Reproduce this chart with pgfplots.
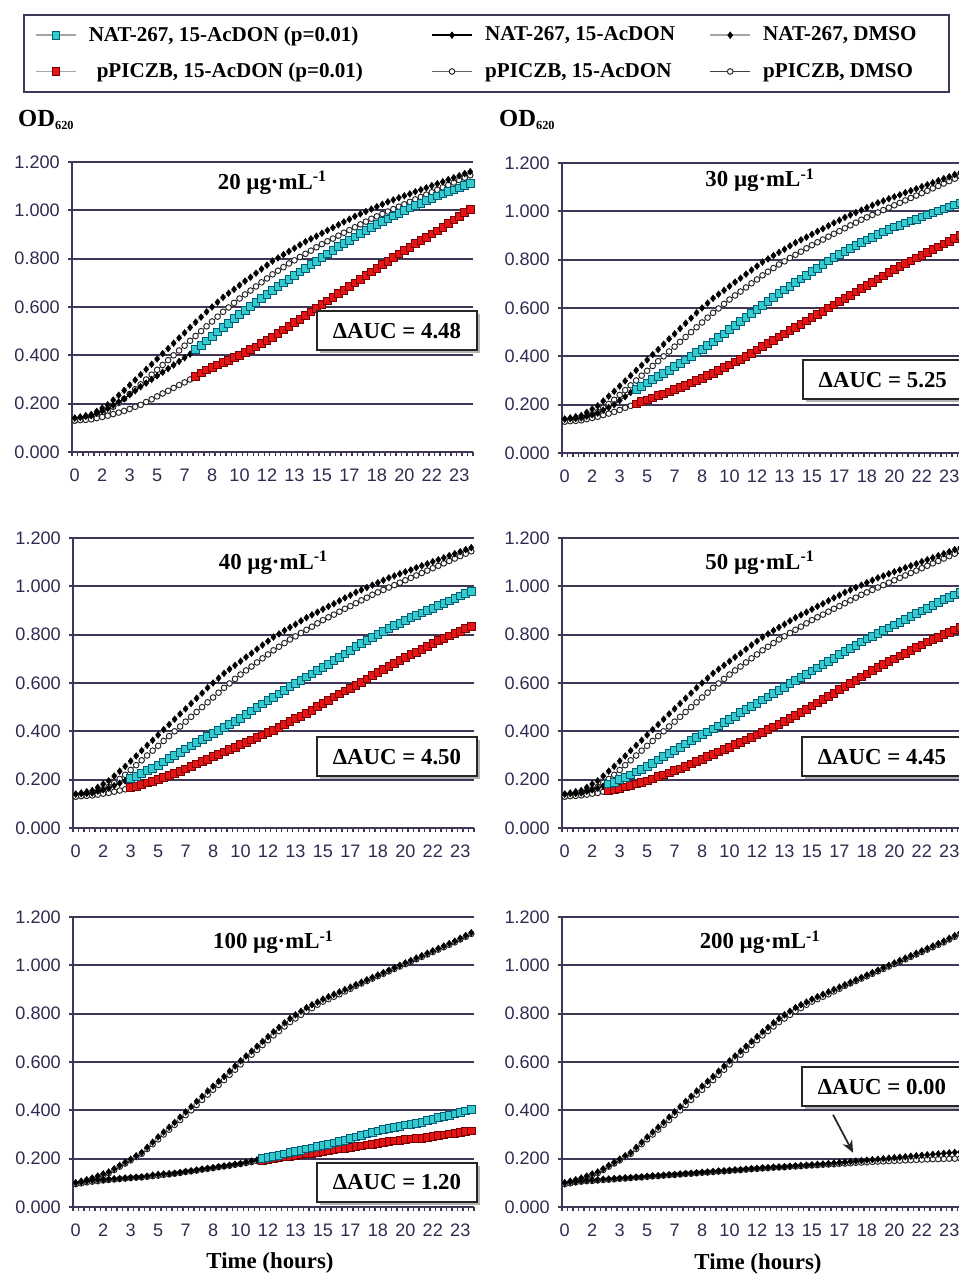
\documentclass[border=0pt]{standalone}
\usepackage{fontspec}
\setmainfont{Liberation Serif}
\newfontfamily\ticksans{Liberation Sans}
\usepackage{pgfplots}
\usepackage{pgfplotstable}
\pgfplotsset{compat=1.18}
\usetikzlibrary{arrows.meta,shadows}

\definecolor{axiscol}{RGB}{66,54,86}
\definecolor{tickcol}{RGB}{52,40,80}
\definecolor{cyanf}{RGB}{51,204,204}
\definecolor{cyand}{RGB}{0,90,120}
\definecolor{redf}{RGB}{230,20,20}
\definecolor{redd}{RGB}{120,0,0}

% controls, panels 20-50
\pgfplotstableread{
i A B
0 0.140 0.130
1 0.145 0.133
2 0.150 0.137
3 0.155 0.140
4 0.168 0.150
5 0.182 0.160
6 0.195 0.170
7 0.215 0.187
8 0.235 0.203
9 0.255 0.220
10 0.277 0.240
11 0.298 0.260
12 0.320 0.280
13 0.342 0.300
14 0.363 0.320
15 0.385 0.340
16 0.407 0.360
17 0.428 0.380
18 0.450 0.400
19 0.472 0.420
20 0.493 0.440
21 0.515 0.460
22 0.537 0.480
23 0.558 0.500
24 0.580 0.520
25 0.600 0.540
26 0.620 0.560
27 0.640 0.580
28 0.657 0.598
29 0.673 0.617
30 0.690 0.635
31 0.707 0.652
32 0.723 0.668
33 0.740 0.685
34 0.757 0.702
35 0.773 0.718
36 0.790 0.735
37 0.803 0.750
38 0.817 0.765
39 0.830 0.780
40 0.843 0.793
41 0.857 0.807
42 0.870 0.820
43 0.882 0.833
44 0.893 0.847
45 0.905 0.860
46 0.917 0.872
47 0.928 0.883
48 0.940 0.895
49 0.952 0.907
50 0.963 0.918
51 0.975 0.930
52 0.985 0.942
53 0.995 0.953
54 1.005 0.965
55 1.015 0.975
56 1.025 0.985
57 1.035 0.995
58 1.043 1.005
59 1.052 1.015
60 1.060 1.025
61 1.068 1.035
62 1.077 1.045
63 1.085 1.055
64 1.093 1.065
65 1.102 1.075
66 1.110 1.085
67 1.118 1.095
68 1.127 1.105
69 1.135 1.115
70 1.143 1.125
71 1.152 1.135
72 1.160 1.145
}\ctrlone

% controls, panels 100-200
\pgfplotstableread{
i A B
0 0.100 0.095
1 0.107 0.102
2 0.113 0.108
3 0.120 0.115
4 0.128 0.123
5 0.137 0.132
6 0.145 0.140
7 0.158 0.153
8 0.172 0.167
9 0.185 0.180
10 0.198 0.193
11 0.212 0.207
12 0.225 0.220
13 0.247 0.240
14 0.268 0.260
15 0.290 0.280
16 0.310 0.300
17 0.330 0.320
18 0.350 0.340
19 0.372 0.360
20 0.393 0.380
21 0.415 0.400
22 0.437 0.422
23 0.458 0.443
24 0.480 0.465
25 0.500 0.485
26 0.520 0.505
27 0.540 0.525
28 0.562 0.547
29 0.583 0.568
30 0.605 0.590
31 0.625 0.610
32 0.645 0.630
33 0.665 0.650
34 0.685 0.670
35 0.705 0.690
36 0.725 0.710
37 0.743 0.728
38 0.762 0.747
39 0.780 0.765
40 0.795 0.780
41 0.810 0.795
42 0.825 0.810
43 0.837 0.823
44 0.848 0.837
45 0.860 0.850
46 0.870 0.860
47 0.880 0.870
48 0.890 0.880
49 0.900 0.892
50 0.910 0.903
51 0.920 0.915
52 0.930 0.925
53 0.940 0.935
54 0.950 0.945
55 0.960 0.955
56 0.970 0.965
57 0.980 0.975
58 0.990 0.985
59 1.000 0.995
60 1.010 1.005
61 1.020 1.015
62 1.030 1.025
63 1.040 1.035
64 1.050 1.045
65 1.060 1.055
66 1.070 1.065
67 1.080 1.075
68 1.090 1.085
69 1.100 1.095
70 1.112 1.107
71 1.123 1.118
72 1.135 1.130
}\ctrltwo

% 20 ug/mL
\pgfplotstableread{
i C D
0 0.140 0.130
1 0.143 0.132
2 0.147 0.133
3 0.150 0.135
4 0.160 0.140
5 0.170 0.145
6 0.180 0.150
7 0.193 0.157
8 0.207 0.163
9 0.220 0.170
10 0.237 0.178
11 0.253 0.187
12 0.270 0.195
13 0.285 0.207
14 0.300 0.218
15 0.315 0.230
16 0.330 0.242
17 0.345 0.253
18 0.360 0.265
19 0.375 0.277
20 0.390 0.288
21 0.405 0.300
22 0.423 0.313
23 0.442 0.327
24 0.460 0.340
25 0.478 0.350
26 0.497 0.360
27 0.515 0.370
28 0.533 0.380
29 0.552 0.390
30 0.570 0.400
31 0.587 0.412
32 0.603 0.423
33 0.620 0.435
34 0.637 0.448
35 0.653 0.462
36 0.670 0.475
37 0.685 0.490
38 0.700 0.505
39 0.715 0.520
40 0.730 0.535
41 0.745 0.550
42 0.760 0.565
43 0.775 0.580
44 0.790 0.595
45 0.805 0.610
46 0.820 0.625
47 0.835 0.640
48 0.850 0.655
49 0.863 0.670
50 0.877 0.685
51 0.890 0.700
52 0.903 0.715
53 0.917 0.730
54 0.930 0.745
55 0.942 0.760
56 0.953 0.775
57 0.965 0.790
58 0.977 0.805
59 0.988 0.820
60 1.000 0.835
61 1.010 0.848
62 1.020 0.862
63 1.030 0.875
64 1.040 0.888
65 1.050 0.902
66 1.060 0.915
67 1.068 0.930
68 1.077 0.945
69 1.085 0.960
70 1.093 0.975
71 1.102 0.990
72 1.110 1.005
}\pone

% 30 ug/mL
\pgfplotstableread{
i C D
0 0.140 0.130
1 0.142 0.132
2 0.143 0.133
3 0.145 0.135
4 0.152 0.140
5 0.158 0.145
6 0.165 0.150
7 0.177 0.157
8 0.188 0.163
9 0.200 0.170
10 0.217 0.178
11 0.233 0.187
12 0.250 0.195
13 0.263 0.203
14 0.277 0.212
15 0.290 0.220
16 0.303 0.228
17 0.317 0.237
18 0.330 0.245
19 0.343 0.253
20 0.357 0.262
21 0.370 0.270
22 0.385 0.280
23 0.400 0.290
24 0.415 0.300
25 0.430 0.310
26 0.445 0.320
27 0.460 0.330
28 0.477 0.342
29 0.493 0.353
30 0.510 0.365
31 0.527 0.377
32 0.543 0.388
33 0.560 0.400
34 0.577 0.413
35 0.593 0.427
36 0.610 0.440
37 0.627 0.453
38 0.643 0.467
39 0.660 0.480
40 0.675 0.493
41 0.690 0.507
42 0.705 0.520
43 0.720 0.533
44 0.735 0.547
45 0.750 0.560
46 0.765 0.573
47 0.780 0.587
48 0.795 0.600
49 0.808 0.613
50 0.822 0.627
51 0.835 0.640
52 0.847 0.653
53 0.858 0.667
54 0.870 0.680
55 0.882 0.693
56 0.893 0.707
57 0.905 0.720
58 0.915 0.733
59 0.925 0.747
60 0.935 0.760
61 0.943 0.772
62 0.952 0.783
63 0.960 0.795
64 0.968 0.807
65 0.977 0.818
66 0.985 0.830
67 0.993 0.842
68 1.002 0.853
69 1.010 0.865
70 1.018 0.877
71 1.027 0.888
72 1.035 0.900
}\ptwo

% 40 ug/mL
\pgfplotstableread{
i C D
0 0.140 0.130
1 0.142 0.132
2 0.143 0.133
3 0.145 0.135
4 0.152 0.138
5 0.158 0.142
6 0.165 0.145
7 0.175 0.150
8 0.185 0.155
9 0.195 0.160
10 0.205 0.167
11 0.215 0.173
12 0.225 0.180
13 0.237 0.187
14 0.248 0.193
15 0.260 0.200
16 0.273 0.208
17 0.287 0.217
18 0.300 0.225
19 0.313 0.235
20 0.327 0.245
21 0.340 0.255
22 0.353 0.265
23 0.367 0.275
24 0.380 0.285
25 0.392 0.295
26 0.403 0.305
27 0.415 0.315
28 0.428 0.325
29 0.442 0.335
30 0.455 0.345
31 0.470 0.355
32 0.485 0.365
33 0.500 0.375
34 0.513 0.385
35 0.527 0.395
36 0.540 0.405
37 0.555 0.417
38 0.570 0.428
39 0.585 0.440
40 0.598 0.452
41 0.612 0.463
42 0.625 0.475
43 0.638 0.488
44 0.652 0.502
45 0.665 0.515
46 0.678 0.528
47 0.692 0.542
48 0.705 0.555
49 0.720 0.567
50 0.735 0.578
51 0.750 0.590
52 0.763 0.603
53 0.777 0.617
54 0.790 0.630
55 0.802 0.643
56 0.813 0.657
57 0.825 0.670
58 0.837 0.682
59 0.848 0.693
60 0.860 0.705
61 0.870 0.717
62 0.880 0.728
63 0.890 0.740
64 0.900 0.752
65 0.910 0.763
66 0.920 0.775
67 0.930 0.785
68 0.940 0.795
69 0.950 0.805
70 0.960 0.815
71 0.970 0.825
72 0.980 0.835
}\pthree

% 50 ug/mL
\pgfplotstableread{
i C D
0 0.140 0.130
1 0.142 0.132
2 0.143 0.133
3 0.145 0.135
4 0.152 0.138
5 0.158 0.142
6 0.165 0.145
7 0.173 0.150
8 0.182 0.155
9 0.190 0.160
10 0.200 0.165
11 0.210 0.170
12 0.220 0.175
13 0.232 0.182
14 0.243 0.188
15 0.255 0.195
16 0.268 0.203
17 0.282 0.212
18 0.295 0.220
19 0.308 0.228
20 0.322 0.237
21 0.335 0.245
22 0.348 0.255
23 0.362 0.265
24 0.375 0.275
25 0.387 0.285
26 0.398 0.295
27 0.410 0.305
28 0.423 0.315
29 0.437 0.325
30 0.450 0.335
31 0.463 0.345
32 0.477 0.355
33 0.490 0.365
34 0.503 0.375
35 0.517 0.385
36 0.530 0.395
37 0.543 0.407
38 0.557 0.418
39 0.570 0.430
40 0.583 0.442
41 0.597 0.453
42 0.610 0.465
43 0.623 0.478
44 0.637 0.492
45 0.650 0.505
46 0.663 0.518
47 0.677 0.532
48 0.690 0.545
49 0.703 0.558
50 0.717 0.572
51 0.730 0.585
52 0.743 0.598
53 0.757 0.612
54 0.770 0.625
55 0.782 0.638
56 0.793 0.652
57 0.805 0.665
58 0.817 0.677
59 0.828 0.688
60 0.840 0.700
61 0.852 0.712
62 0.863 0.723
63 0.875 0.735
64 0.887 0.747
65 0.898 0.758
66 0.910 0.770
67 0.922 0.780
68 0.933 0.790
69 0.945 0.800
70 0.955 0.810
71 0.965 0.820
72 0.975 0.830
}\pfour

% 100 ug/mL
\pgfplotstableread{
i C D
0 0.100 0.095
1 0.103 0.098
2 0.107 0.102
3 0.110 0.105
4 0.112 0.107
5 0.113 0.110
6 0.115 0.112
7 0.117 0.114
8 0.118 0.116
9 0.120 0.118
10 0.122 0.120
11 0.123 0.122
12 0.125 0.123
13 0.128 0.125
14 0.132 0.128
15 0.135 0.130
16 0.137 0.133
17 0.138 0.135
18 0.140 0.138
19 0.143 0.141
20 0.147 0.145
21 0.150 0.148
22 0.153 0.151
23 0.157 0.155
24 0.160 0.158
25 0.163 0.161
26 0.167 0.165
27 0.170 0.168
28 0.173 0.171
29 0.177 0.175
30 0.180 0.178
31 0.185 0.182
32 0.190 0.186
33 0.195 0.190
34 0.200 0.193
35 0.205 0.197
36 0.210 0.200
37 0.215 0.203
38 0.220 0.207
39 0.225 0.210
40 0.230 0.213
41 0.235 0.217
42 0.240 0.220
43 0.245 0.223
44 0.250 0.227
45 0.255 0.230
46 0.260 0.233
47 0.265 0.237
48 0.270 0.240
49 0.277 0.243
50 0.283 0.247
51 0.290 0.250
52 0.297 0.253
53 0.303 0.257
54 0.310 0.260
55 0.315 0.263
56 0.320 0.267
57 0.325 0.270
58 0.330 0.273
59 0.335 0.277
60 0.340 0.280
61 0.343 0.282
62 0.347 0.283
63 0.350 0.285
64 0.357 0.288
65 0.363 0.292
66 0.370 0.295
67 0.375 0.298
68 0.380 0.302
69 0.385 0.305
70 0.392 0.308
71 0.398 0.312
72 0.405 0.315
}\pfive

% 200 ug/mL
\pgfplotstableread{
i C D
0 0.100 0.095
1 0.103 0.098
2 0.105 0.102
3 0.108 0.105
4 0.110 0.107
5 0.111 0.108
6 0.113 0.110
7 0.115 0.112
8 0.116 0.113
9 0.118 0.115
10 0.119 0.117
11 0.121 0.118
12 0.122 0.120
13 0.124 0.122
14 0.125 0.123
15 0.127 0.125
16 0.129 0.127
17 0.130 0.128
18 0.132 0.130
19 0.134 0.132
20 0.135 0.133
21 0.137 0.135
22 0.139 0.137
23 0.140 0.138
24 0.142 0.140
25 0.144 0.142
26 0.145 0.143
27 0.147 0.145
28 0.149 0.147
29 0.150 0.148
30 0.152 0.150
31 0.154 0.152
32 0.155 0.153
33 0.157 0.155
34 0.159 0.157
35 0.160 0.158
36 0.162 0.160
37 0.163 0.161
38 0.165 0.163
39 0.166 0.164
40 0.167 0.165
41 0.169 0.167
42 0.170 0.168
43 0.172 0.169
44 0.173 0.171
45 0.175 0.172
46 0.177 0.173
47 0.178 0.175
48 0.180 0.176
49 0.182 0.177
50 0.184 0.179
51 0.186 0.180
52 0.188 0.181
53 0.190 0.183
54 0.192 0.184
55 0.194 0.185
56 0.196 0.187
57 0.198 0.188
58 0.200 0.189
59 0.202 0.190
60 0.204 0.191
61 0.206 0.192
62 0.208 0.193
63 0.210 0.194
64 0.212 0.195
65 0.214 0.196
66 0.216 0.197
67 0.218 0.198
68 0.220 0.198
69 0.222 0.199
70 0.224 0.200
71 0.226 0.200
72 0.228 0.201
}\psix

\tikzset{
  ttl/.style={font=\bfseries\fontsize{13}{15}\selectfont},
  auc/.style={draw=black!85, line width=1.2pt, fill=white, minimum width=3.2cm,
    minimum height=0.78cm, font=\bfseries\fontsize{13}{15}\selectfont,
    drop shadow={shadow xshift=0.06cm, shadow yshift=-0.06cm, fill=gray, opacity=0.6}},
}

\pgfplotsset{
  panel/.style={
    scale only axis, width=8.02cm, height=5.80cm,
    xmin=-0.5, xmax=72.5, ymin=0, ymax=1.2,
    axis lines=left,
    axis line style={-, draw=axiscol, line width=1.1pt},
    ytick={0,0.2,0.4,0.6,0.8,1.0,1.2},
    yticklabels={0.000,0.200,0.400,0.600,0.800,1.000,1.200},
    xtick={0,5,10,15,20,25,30,35,40,45,50,55,60,65,70},
    xticklabels={0,2,3,5,7,8,10,12,13,15,17,18,20,22,23},
    minor xtick={-0.5,0.5,...,72.5},
    tick align=outside,
    major tick length=0.08cm, minor tick length=0.08cm,
    major x tick style={draw=none},
    minor x tick style={draw=axiscol, line width=0.8pt},
    ytick style={draw=axiscol, line width=1pt},
    ymajorgrids,
    major grid style={draw=axiscol, line width=1.1pt},
    ticklabel style={font=\ticksans\fontsize{10.3}{12}\selectfont, text=tickcol},
    yticklabel style={xshift=-0.04cm},
    xticklabel style={yshift=-0.13cm},
    clip mode=individual,
  },
  ptA/.style={color=gray!70, line width=0.4pt, mark=diamond*, mark size=1.9pt,
    mark options={draw=black, fill=black, line width=0.3pt}},
  ptB/.style={color=black!75, line width=0.4pt, mark=*, mark size=1.6pt,
    mark options={draw=black!85, fill=white, line width=0.55pt}},
  ptC/.style={color=black, line width=0.5pt, mark=diamond*, mark size=1.9pt,
    mark options={draw=black, fill=black, line width=0.3pt}},
  ptD/.style={color=black!60, line width=0.4pt, mark=*, mark size=1.6pt,
    mark options={draw=black!85, fill=white, line width=0.55pt}},
  ptCy/.style={color=gray!70, line width=0.4pt, mark=square*, mark size=2.2pt,
    mark options={fill=cyanf, draw=cyand, line width=0.45pt}},
  ptR/.style={color=gray!70, line width=0.4pt, mark=square*, mark size=2.2pt,
    mark options={fill=redf, draw=redd, line width=0.45pt}},
}

\begin{document}
\begin{tikzpicture}
\useasboundingbox (0,0) rectangle (19.16,25.5);

% ---------- 20 ug/mL ----------
\begin{axis}[panel, at={(1.44cm,16.46cm)}, anchor=south west,
  legend columns=3,
  legend image code/.code={\draw[mark repeat=2,mark phase=2,#1] plot coordinates {(0cm,0cm) (0.4cm,0cm) (0.8cm,0cm)};},
  legend style={at={(1.0337,1.3746)}, anchor=center, draw=axiscol, line width=1.2pt,
    fill=white, font=\bfseries\fontsize{12}{14}\selectfont,
    inner xsep=0.22cm, inner ysep=0.24cm, nodes={inner sep=0pt},
    /tikz/every odd column/.append style={column sep=0.24cm}, row sep=0.38cm},
  legend cell align=left]
\addlegendimage{ptCy, line width=1.1pt}
\addlegendentry{\makebox[6.84cm][l]{NAT-267, 15-AcDON (p=0.01)}}
\addlegendimage{ptC, line width=1.4pt}
\addlegendentry{\makebox[4.48cm][l]{NAT-267, 15-AcDON}}
\addlegendimage{ptA, line width=1.1pt}
\addlegendentry{\makebox[3.5cm][l]{NAT-267, DMSO}}
\addlegendimage{ptR, line width=1.1pt}
\addlegendentry{\makebox[6.84cm][l]{\hspace{0.16cm}pPICZB, 15-AcDON (p=0.01)}}
\addlegendimage{ptD, line width=1.1pt}
\addlegendentry{\makebox[4.48cm][l]{pPICZB, 15-AcDON}}
\addlegendimage{ptB, line width=1.1pt}
\addlegendentry{\makebox[3.5cm][l]{pPICZB, DMSO}}
\addplot[ptB, forget plot] table[x=i,y=B]{\ctrlone};
\addplot[ptA, forget plot] table[x=i,y=A]{\ctrlone};
\addplot[ptD, forget plot, skip coords between index={22}{73}] table[x=i,y=D]{\pone};
\addplot[ptC, forget plot, skip coords between index={22}{73}] table[x=i,y=C]{\pone};
\addplot[ptR, forget plot, skip coords between index={0}{22}] table[x=i,y=D]{\pone};
\addplot[ptCy, forget plot, skip coords between index={0}{22}] table[x=i,y=C]{\pone};
\node[ttl] at (axis description cs:0.5,0.928) {20 µg·mL\textsuperscript{-1}};
\node[auc] at (axis description cs:0.8105,0.4175) {ΔAUC = 4.48};
\end{axis}

% ---------- 30 ug/mL ----------
\begin{axis}[panel, at={(11.24cm,16.44cm)}, anchor=south west]
\addplot[ptB] table[x=i,y=B]{\ctrlone};
\addplot[ptA] table[x=i,y=A]{\ctrlone};
\addplot[ptD, skip coords between index={13}{73}] table[x=i,y=D]{\ptwo};
\addplot[ptC, skip coords between index={13}{73}] table[x=i,y=C]{\ptwo};
\addplot[ptR, skip coords between index={0}{13}] table[x=i,y=D]{\ptwo};
\addplot[ptCy, skip coords between index={0}{13}] table[x=i,y=C]{\ptwo};
\node[ttl] at (axis description cs:0.494,0.941) {30 µg·mL\textsuperscript{-1}};
\node[auc] at (axis description cs:0.800,0.252) {ΔAUC = 5.25};
\end{axis}

% ---------- 40 ug/mL ----------
\begin{axis}[panel, at={(1.46cm,8.94cm)}, anchor=south west]
\addplot[ptB] table[x=i,y=B]{\ctrlone};
\addplot[ptA] table[x=i,y=A]{\ctrlone};
\addplot[ptD, skip coords between index={10}{73}] table[x=i,y=D]{\pthree};
\addplot[ptC, skip coords between index={10}{73}] table[x=i,y=C]{\pthree};
\addplot[ptR, skip coords between index={0}{10}] table[x=i,y=D]{\pthree};
\addplot[ptCy, skip coords between index={0}{10}] table[x=i,y=C]{\pthree};
\node[ttl] at (axis description cs:0.5,0.914) {40 µg·mL\textsuperscript{-1}};
\node[auc] at (axis description cs:0.808,0.245) {ΔAUC = 4.50};
\end{axis}

% ---------- 50 ug/mL ----------
\begin{axis}[panel, at={(11.24cm,8.94cm)}, anchor=south west]
\addplot[ptB] table[x=i,y=B]{\ctrlone};
\addplot[ptA] table[x=i,y=A]{\ctrlone};
\addplot[ptD, skip coords between index={8}{73}] table[x=i,y=D]{\pfour};
\addplot[ptC, skip coords between index={8}{73}] table[x=i,y=C]{\pfour};
\addplot[ptR, skip coords between index={0}{8}] table[x=i,y=D]{\pfour};
\addplot[ptCy, skip coords between index={0}{8}] table[x=i,y=C]{\pfour};
\node[ttl] at (axis description cs:0.494,0.914) {50 µg·mL\textsuperscript{-1}};
\node[auc] at (axis description cs:0.798,0.245) {ΔAUC = 4.45};
\end{axis}

% ---------- 100 ug/mL ----------
\begin{axis}[panel, at={(1.46cm,1.36cm)}, anchor=south west]
\addplot[ptB] table[x=i,y=B]{\ctrltwo};
\addplot[ptA] table[x=i,y=A]{\ctrltwo};
\addplot[ptD, skip coords between index={34}{73}] table[x=i,y=D]{\pfive};
\addplot[ptC, skip coords between index={34}{73}] table[x=i,y=C]{\pfive};
\addplot[ptR, skip coords between index={0}{34}] table[x=i,y=D]{\pfive};
\addplot[ptCy, skip coords between index={0}{34}] table[x=i,y=C]{\pfive};
\node[ttl] at (axis description cs:0.5,0.913) {100 µg·mL\textsuperscript{-1}};
\node[auc] at (axis description cs:0.808,0.085) {ΔAUC = 1.20};
\end{axis}

% ---------- 200 ug/mL ----------
\begin{axis}[panel, at={(11.24cm,1.36cm)}, anchor=south west]
\addplot[ptB] table[x=i,y=B]{\ctrltwo};
\addplot[ptA] table[x=i,y=A]{\ctrltwo};
\addplot[ptD] table[x=i,y=D]{\psix};
\addplot[ptC] table[x=i,y=C]{\psix};
\node[ttl] at (axis description cs:0.494,0.913) {200 µg·mL\textsuperscript{-1}};
\node[auc] at (axis description cs:0.798,0.415) {ΔAUC = 0.00};
\draw[-{Stealth[length=7pt,width=6pt]}, line width=1pt, black!85]
  (axis description cs:0.676,0.318) -- (axis description cs:0.726,0.187);
\end{axis}

\node[anchor=west, font=\bfseries\fontsize{14}{16}\selectfont] at (0.24cm,23.1cm) {OD\textsubscript{\fontsize{7}{8}\selectfont 620}};
\node[anchor=west, font=\bfseries\fontsize{14}{16}\selectfont] at (9.86cm,23.1cm) {OD\textsubscript{\fontsize{7}{8}\selectfont 620}};
\node[font=\bfseries\fontsize{13}{15}\selectfont] at (5.4cm,0.24cm) {Time (hours)};
\node[font=\bfseries\fontsize{13}{15}\selectfont] at (15.16cm,0.22cm) {Time (hours)};
\end{tikzpicture}
\end{document}
